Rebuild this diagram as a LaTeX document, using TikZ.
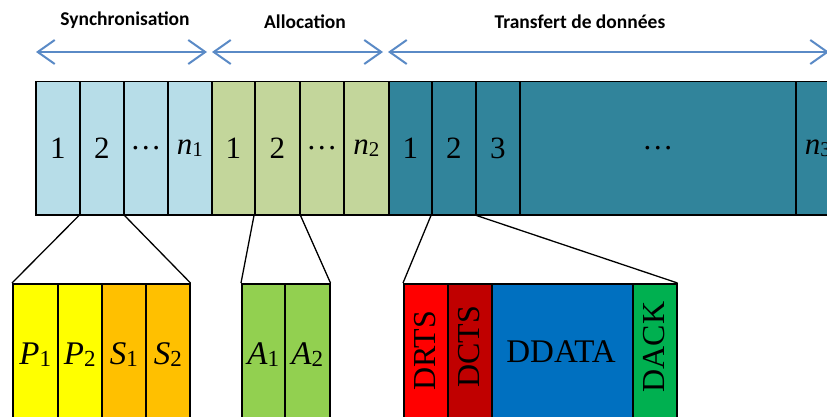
\documentclass[tikz,border=0pt]{standalone}
\usepackage{fontspec}
\setmainfont{Liberation Serif}
\newfontfamily\labfont{Carlito}
\usetikzlibrary{arrows.meta}
\definecolor{syncC}{HTML}{B7DDE8}
\definecolor{allocC}{HTML}{C3D69B}
\definecolor{dataC}{HTML}{31849B}
\definecolor{arrC}{HTML}{5A8AC6}
\definecolor{pC}{HTML}{FFFF00}
\definecolor{sC}{HTML}{FFC000}
\definecolor{aC}{HTML}{92D050}
\definecolor{rtsC}{HTML}{FF0000}
\definecolor{ctsC}{HTML}{C00000}
\definecolor{ddC}{HTML}{0070C0}
\definecolor{ackC}{HTML}{00B050}
\newcommand\idxT[2]{\textit{#1}\raisebox{-0.08em}{\fontsize{21}{21}\selectfont #2}}
\newcommand\idxB[2]{\textit{#1}\raisebox{-0.08em}{\fontsize{23}{23}\selectfont #2}}
\begin{document}
\begin{tikzpicture}[x=1pt,y=-1pt,
  cell/.style={draw=black, line width=1.5pt, inner sep=0pt, anchor=north west,
    minimum height=133pt, font=\fontsize{31}{31}\selectfont},
  sub/.style={draw=black, line width=1.5pt, inner sep=0pt, anchor=north west,
    minimum height=142pt, font=\fontsize{33}{33}\selectfont},
  vsub/.style={sub, font=\fontsize{32}{32}\selectfont},
  link/.style={draw=black, line width=1.3pt},
  lab/.style={font=\labfont\bfseries\fontsize{19.5}{19.5}\selectfont},
  arr/.style={draw=arrC, line width=2pt,
    {Straight Barb[length=17pt,width=24pt]}-{Straight Barb[length=17pt,width=24pt]}}]
\useasboundingbox (0,0) rectangle (827,417);
\clip (0,0) rectangle (827,417);
% labels and span arrows
\node[lab] (lsync) at (125,20) {Synchronisation};
\node[lab] (lalloc) at (305,22) {Allocation};
\node[lab] (ldata) at (580,22) {Transfert de données};
\coordinate (a1l) at (36,52); \coordinate (a1r) at (207,52);
\coordinate (a2l) at (212,52); \coordinate (a2r) at (383,52);
\coordinate (a3l) at (388,52); \coordinate (a3r) at (829,52);
\draw[arr] (a1l) -- (a1r);
\draw[arr] (a2l) -- (a2r);
\draw[arr] (a3l) -- (a3r);
% top bar
\node[cell, fill=syncC, minimum width=44pt] (s1) at (35,81) {1};
\node[cell, fill=syncC, minimum width=44pt] (s2) at (79,81) {2};
\node[cell, fill=syncC, minimum width=44pt] (s3) at (123,81) {…};
\node[cell, fill=syncC, minimum width=44pt] (s4) at (167,81) {\idxT{n}{1}};
\node[cell, fill=allocC, minimum width=43pt] (al1) at (211,81) {1};
\node[cell, fill=allocC, minimum width=45pt] (al2) at (254,81) {2};
\node[cell, fill=allocC, minimum width=44pt] (al3) at (299,81) {…};
\node[cell, fill=allocC, minimum width=45pt] (al4) at (343,81) {\idxT{n}{2}};
\node[cell, fill=dataC, minimum width=43pt] (d1) at (388,81) {1};
\node[cell, fill=dataC, minimum width=44pt] (d2) at (431,81) {2};
\node[cell, fill=dataC, minimum width=44pt] (d3) at (475,81) {3};
\node[cell, fill=dataC, minimum width=276pt] (d4) at (519,81) {…};
\node[cell, fill=dataC, minimum width=44pt] (d5) at (795,81) {\idxT{n}{3}};
% sub boxes
\node[sub, fill=pC, minimum width=45pt] (p1) at (12,283) {\idxB{P}{1}};
\node[sub, fill=pC, minimum width=44pt] (p2) at (57,283) {\idxB{P}{2}};
\node[sub, fill=sC, minimum width=44pt] (q1) at (101,283) {\idxB{S}{1}};
\node[sub, fill=sC, minimum width=44pt] (q2) at (145,283) {\idxB{S}{2}};
\node[sub, fill=aC, minimum width=43pt] (b1) at (241,283) {\idxB{A}{1}};
\node[sub, fill=aC, minimum width=45pt] (b2) at (284,283) {\idxB{A}{2}};
\node[vsub, fill=rtsC, minimum width=44pt] (rts) at (403,283) {};
\node[vsub, fill=ctsC, minimum width=44pt] (cts) at (447,283) {};
\node[sub, fill=ddC, minimum width=141pt] (dd) at (491,283) {};
\node[vsub, fill=ackC, minimum width=44pt] (ack) at (632,283) {};
\node[rotate=90, font=\fontsize{32}{32}\selectfont] (trts) at (425,351) {DRTS};
\node[rotate=90, font=\fontsize{32}{32}\selectfont] (tcts) at (469,347) {DCTS};
\node[font=\fontsize{33}{33}\selectfont] (tdd) at (561,352) {DDATA};
\node[rotate=90, font=\fontsize{32}{32}\selectfont] (tack) at (654,347) {DACK};
% links
\draw[link] (s2.south west) -- (p1.north west);
\draw[link] (s2.south east) -- (q2.north east);
\draw[link] (al2.south west) -- (b1.north west);
\draw[link] (al2.south east) -- (b2.north east);
\draw[link] (d2.south west) -- (rts.north west);
\draw[link] (d2.south east) -- (ack.north east);
\end{tikzpicture}
\end{document}
